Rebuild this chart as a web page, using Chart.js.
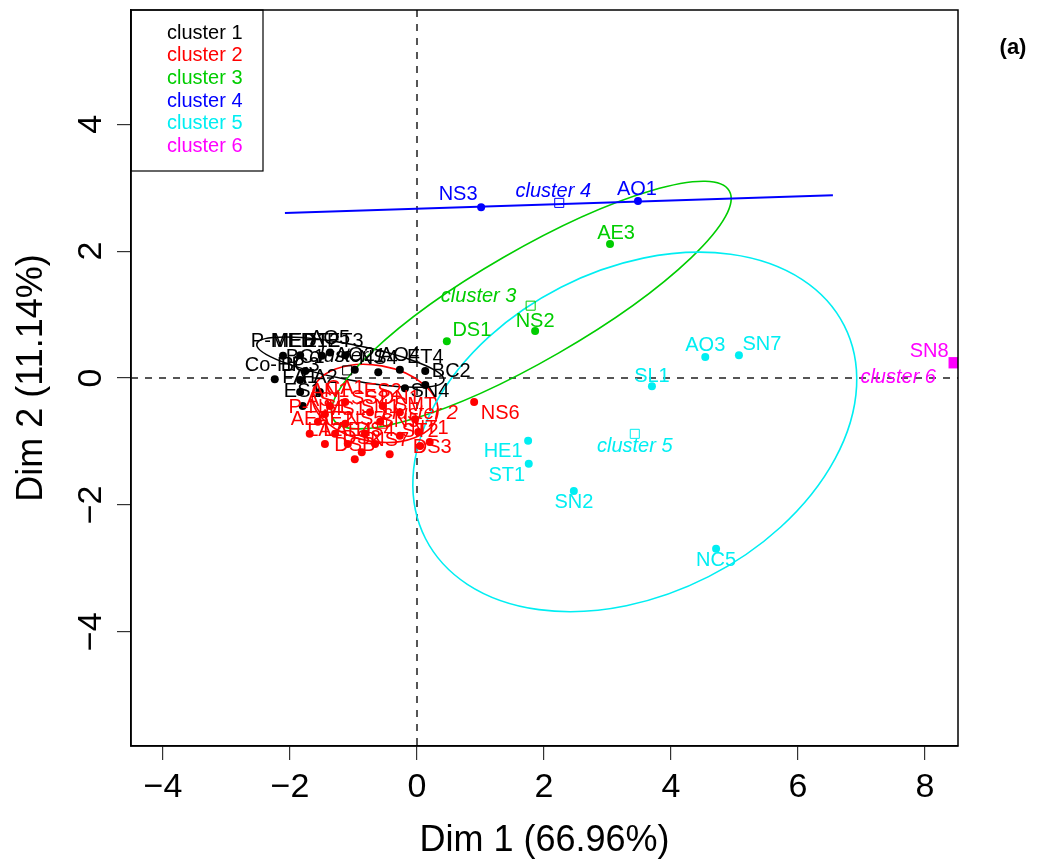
<!DOCTYPE html>
<html>
<head>
<meta charset="utf-8">
<script src="https://cdn.jsdelivr.net/npm/chart.js@4.4.0/dist/chart.umd.min.js"></script>
<style>
  html, body { margin: 0; padding: 0; background: #fff; }
</style>
</head>
<body>
<canvas id="c" width="1038" height="865"></canvas>
<script>
// individuals per cluster (Dim 1, Dim 2)
var names1 = ['P-MED', 'MED1', 'ET2', 'AO5', 'ET3', 'BC1', 'AO2', 'NS4', 'AO4', 'ET4', 'Co-HP', 'BC3', 'FA1', 'FA2', 'ES1', 'BC2', 'SN4'];
var x1 = [-2.11, -1.84, -1.50, -1.37, -1.13, -1.76, -0.98, -0.61, -0.27, 0.13, -2.24, -1.84, -1.84, -1.53, -1.80, 0.13, -0.19];
var y1 = [0.35, 0.36, 0.35, 0.40, 0.36, 0.11, 0.13, 0.09, 0.13, 0.11, -0.02, -0.03, -0.22, -0.22, -0.44, -0.11, -0.16];

var names2 = ['CA1', 'AS1', 'SS2', 'DN1', 'P-NS1', 'MS1', 'SN1', 'SMT', 'AE2', 'NS5', 'SN5', 'LAE4', 'DS4', 'ST2', 'DS2', 'NT1', 'DS3', 'NS6', 'ES2',
              'AN1', 'AE5', 'NS7', 'DSB', 'LA2'];
var x2 = [-1.13, -1.45, -0.74, -0.27, -1.56, -1.13, -0.58, -0.03, -1.29, -0.82, -0.27, -1.09, -0.66, 0.05, -0.87, 0.20, 0.02, 0.90, -0.54,
          -1.37, -1.69, -0.43, -0.98, -1.45];
var y2 = [-0.38, -0.57, -0.54, -0.54, -0.69, -0.72, -0.69, -0.65, -0.88, -0.88, -0.91, -1.04, -1.04, -1.07, -1.17, -1.01, -0.85, -0.38, -0.44,
          -0.44, -0.88, -1.20, -1.28, -1.04];

var names3 = ['DS1', 'NS2', 'AE3'];
var x3 = [0.47, 1.86, 3.04];
var y3 = [0.58, 0.74, 2.11];

var names4 = ['NS3', 'AO1'];
var x4 = [1.01, 3.48];
var y4 = [2.69, 2.79];

var names5 = ['AO3', 'SN7', 'SL1', 'HE1', 'ST1', 'SN2', 'NC5'];
var x5 = [4.54, 5.07, 3.70, 1.75, 1.76, 2.47, 4.71];
var y5 = [0.33, 0.36, -0.13, -0.99, -1.35, -1.78, -2.69];

var names6 = ['SN8'];
var x6 = [8.46];
var y6 = [0.24];

// cluster centres
var clusterNames = ['cluster 1', 'cluster 2', 'cluster 3', 'cluster 4', 'cluster 5', 'cluster 6'];
var centerX = [-1.10, -0.55, 1.79, 2.24, 3.43, 8.46];
var centerY = [0.12, -0.72, 1.14, 2.76, -0.88, 0.24];

// ellipses (clusters 1, 2, 3, 5) : centre, half axes, angle in degrees
var ellCluster = [0, 1, 2, 4];
var ellCx = [-1.05, -0.66, 1.80, 3.43];
var ellCy = [0.25, -0.40, 1.15, -0.85];
var ellA = [1.5, 1.0, 3.6, 3.70];
var ellB = [0.28, 0.6, 0.87, 2.56];
var ellAngle = [-11, -10, 30, 27];

// cluster 4 has two members -> flat line
var c4LineX = [-2.08, 6.55];
var c4LineY = [2.60, 2.88];

var xTickVals = [-4, -2, 0, 2, 4, 6, 8];
var xTickLabels = ['\u22124', '\u22122', '0', '2', '4', '6', '8'];
var yTickVals = [-4, -2, 0, 2, 4];
var yTickLabels = ['\u22124', '\u22122', '0', '2', '4'];

// styling
var FONT = '"Liberation Sans", Arial, Helvetica, sans-serif';
var colors = ['#000000', '#FF0000', '#00CD00', '#0000FF', '#00EEF2', '#FF00FF'];

// label nudges in px (default: centred above the point)
var labelOffsets = {
    'NS3': [-23, -13], 'AO1': [-1, -11], 'AE3': [6, -11], 'DS1': [25, -11], 'NS2': [0, -10],
    'AO3': [0, -12], 'SN7': [23, -11], 'SL1': [0, -10], 'HE1': [-25, 11], 'ST1': [-22, 12],
    'SN2': [0, 12], 'NC5': [0, 12], 'SN8': [-25, -11], 'NS6': [26, 11], 'DS3': [14, 16],
    'BC2': [26, -13], 'SN4': [25, 3],
    'cluster 2': [38, -10], 'cluster 3': [-52, -9], 'cluster 4': [-6, -11],
    'cluster 5': [0, 13], 'cluster 6': [-56, 15]
};

function pts(xs, ys) {
    return xs.map(function (v, i) { return { x: v, y: ys[i] }; });
}

var allNames = [names1, names2, names3, names4, names5, names6];
var allX = [x1, x2, x3, x4, x5, x6];
var allY = [y1, y2, y3, y4, y5, y6];

var datasets = [{
    data: pts(c4LineX, c4LineY),
    showLine: true,
    borderColor: colors[3],
    borderWidth: 2,
    pointRadius: 0
}];
allNames.forEach(function (nm, k) {
    datasets.push({
        data: pts(allX[k], allY[k]),
        ptLabels: nm,
        backgroundColor: colors[k],
        borderColor: colors[k],
        borderWidth: 0,
        pointStyle: k === 5 ? 'rect' : 'circle',
        pointRadius: k === 5 ? 8 : 4
    });
});
datasets.push({
    data: pts(centerX, centerY),
    ptLabels: clusterNames,
    italicLabels: true,
    labelColors: colors,
    pointStyle: 'rect',
    pointRadius: 6.4,
    borderWidth: 1,
    borderColor: colors,
    backgroundColor: colors.map(function (c, i) { return i === 5 ? c : 'rgba(0,0,0,0)'; })
});

var backdrop = {
    id: 'backdrop',
    beforeDatasetsDraw: function (chart) {
        var ctx = chart.ctx, a = chart.chartArea;
        var xs = chart.scales.x, ys = chart.scales.y;
        ctx.save();
        ctx.beginPath();
        ctx.rect(a.left, a.top, a.right - a.left, a.bottom - a.top);
        ctx.clip();
        // dashed axes through origin
        ctx.strokeStyle = '#555';
        ctx.lineWidth = 2;
        ctx.setLineDash([7, 7]);
        var x0 = xs.getPixelForValue(0), y0 = ys.getPixelForValue(0);
        ctx.beginPath();
        ctx.moveTo(x0, a.top); ctx.lineTo(x0, a.bottom);
        ctx.moveTo(a.left, y0); ctx.lineTo(a.right, y0);
        ctx.stroke();
        ctx.setLineDash([]);
        // ellipses
        var sx = xs.getPixelForValue(1) - xs.getPixelForValue(0);
        var sy = ys.getPixelForValue(0) - ys.getPixelForValue(1);
        ellCluster.forEach(function (k, i) {
            ctx.save();
            ctx.translate(xs.getPixelForValue(ellCx[i]), ys.getPixelForValue(ellCy[i]));
            ctx.scale(sx, -sy);
            ctx.rotate(ellAngle[i] * Math.PI / 180);
            ctx.beginPath();
            ctx.ellipse(0, 0, ellA[i], ellB[i], 0, 0, 2 * Math.PI);
            ctx.restore();
            ctx.strokeStyle = colors[k];
            ctx.lineWidth = 1.6;
            ctx.stroke();
        });
        ctx.restore();
    }
};

var labelPlugin = {
    id: 'ptLabels',
    afterDatasetsDraw: function (chart) {
        var ctx = chart.ctx, a = chart.chartArea;
        ctx.save();
        ctx.beginPath();
        ctx.rect(a.left, a.top, a.right - a.left, a.bottom - a.top);
        ctx.clip();
        ctx.textAlign = 'center';
        ctx.textBaseline = 'middle';
        chart.data.datasets.forEach(function (ds, i) {
            if (!ds.ptLabels) return;
            var meta = chart.getDatasetMeta(i);
            ctx.font = (ds.italicLabels ? 'italic ' : '') + '20px ' + FONT;
            meta.data.forEach(function (pt, j) {
                var name = ds.ptLabels[j];
                var off = labelOffsets[name] || [0, -14];
                ctx.fillStyle = ds.labelColors ? ds.labelColors[j] : ds.backgroundColor;
                ctx.fillText(name, pt.x + off[0], pt.y + off[1]);
            });
        });
        ctx.restore();
    }
};

var frame = {
    id: 'frame',
    afterDraw: function (chart) {
        var ctx = chart.ctx, a = chart.chartArea, ys = chart.scales.y;
        ctx.save();
        ctx.strokeStyle = '#000';
        ctx.lineWidth = 1.5;
        ctx.strokeRect(a.left, a.top, a.right - a.left, a.bottom - a.top);
        // y tick labels, rotated like R
        ctx.fillStyle = '#000';
        ctx.font = '34px ' + FONT;
        ctx.textAlign = 'center';
        ctx.textBaseline = 'middle';
        yTickVals.forEach(function (v, i) {
            ctx.save();
            ctx.translate(92, ys.getPixelForValue(v));
            ctx.rotate(-Math.PI / 2);
            ctx.fillText(yTickLabels[i], 0, 0);
            ctx.restore();
        });
        // legend box
        ctx.lineWidth = 1.2;
        ctx.strokeRect(a.left, a.top, 132, 161);
        ctx.font = '20px ' + FONT;
        ctx.textAlign = 'left';
        clusterNames.forEach(function (nm, i) {
            ctx.fillStyle = colors[i];
            ctx.fillText(nm, a.left + 36, a.top + 23 + i * 22.7);
        });
        // panel tag
        ctx.fillStyle = '#000';
        ctx.font = 'bold 22px ' + FONT;
        ctx.textAlign = 'center';
        ctx.fillText('(a)', 1013, 48);
        ctx.restore();
    }
};

new Chart(document.getElementById('c'), {
    type: 'scatter',
    data: { datasets: datasets },
    plugins: [backdrop, labelPlugin, frame],
    options: {
        responsive: false,
        animation: false,
        layout: { padding: { top: 10, right: 80, left: 0, bottom: 0 } },
        plugins: { legend: { display: false }, tooltip: { enabled: false } },
        scales: {
            x: {
                type: 'linear',
                min: -4.504,
                max: 8.52,
                afterBuildTicks: function (s) { s.ticks = xTickVals.map(function (v) { return { value: v }; }); },
                afterFit: function (s) { s.height = 119; },
                grid: { drawOnChartArea: false, drawTicks: true, tickLength: 14, color: '#333', lineWidth: 1.2 },
                border: { display: true, color: '#000', width: 1.5 },
                ticks: {
                    autoSkip: false, maxRotation: 0, padding: 7, color: '#000',
                    font: { family: FONT, size: 34 },
                    callback: function (v) { return xTickLabels[xTickVals.indexOf(v)]; }
                },
                title: { display: true, text: 'Dim 1 (66.96%)', color: '#000', font: { family: FONT, size: 36 }, padding: { top: 0, bottom: 2 } }
            },
            y: {
                type: 'linear',
                min: -5.8,
                max: 5.8,
                afterBuildTicks: function (s) { s.ticks = yTickVals.map(function (v) { return { value: v }; }); },
                afterFit: function (s) { s.width = 131; },
                grid: { drawOnChartArea: false, drawTicks: true, tickLength: 14, color: '#333', lineWidth: 1.2 },
                border: { display: true, color: '#000', width: 1.5 },
                ticks: { display: false },
                title: { display: true, text: 'Dim 2 (11.14%)', color: '#000', font: { family: FONT, size: 36 }, padding: { top: 10, bottom: 0 } }
            }
        }
    }
});
</script>
</body>
</html>
